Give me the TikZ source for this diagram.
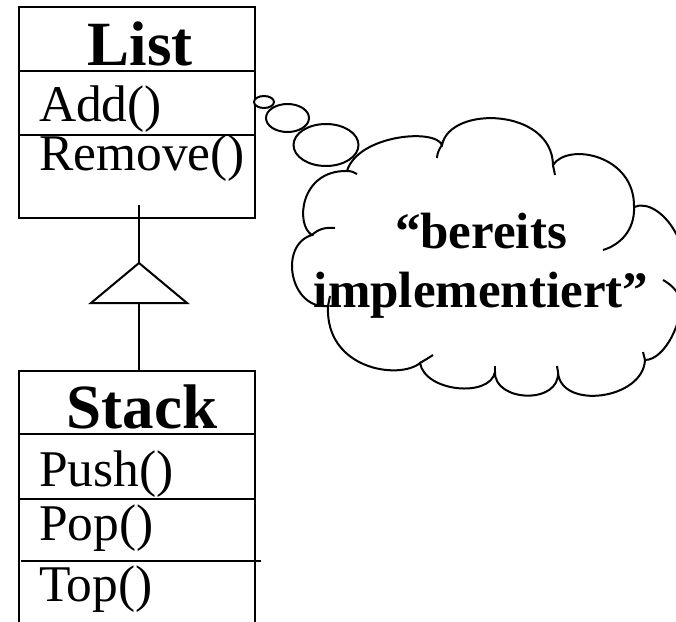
\documentclass[tikz,border=0pt]{standalone}
\usepackage{fontspec}
\setmainfont{Liberation Serif}

\begin{document}
\begin{tikzpicture}[x=1pt, y=-1pt, line width=2pt,
    classbox/.style={draw, minimum width=236pt, inner sep=0pt},
    classname/.style={anchor=base, inner sep=0pt, font=\fontsize{63}{63}\selectfont\bfseries},
    method/.style={anchor=base west, inner sep=0pt, font=\fontsize{51.5}{52}\selectfont},
    bubble/.style={draw, fill=white}]
    \useasboundingbox (0,0) rectangle (676,621);

    \node[classbox, minimum height=211pt] (list) at (137,112.5) {};
    \node[classname] (listname) at (140,65) {List};
    \draw (19,71) -- (255,71);
    \draw (19,135) -- (255,135);
    \node[method] (add) at (38,121) {Add()};
    \node[method] (remove) at (38,170) {Remove()};

    \node[classbox, minimum height=290pt] (stack) at (137,516) {};
    \node[classname] (stackname) at (142,428) {Stack};
    \draw (19,434) -- (255,434);
    \draw (19,498.5) -- (255,498.5);
    \draw (21,561) -- (261,561);
    \node[method] (push) at (38,486) {Push()};
    \node[method] (pop) at (38,540) {Pop()};
    \node[method] (top) at (38,601) {Top()};

    \coordinate (listfoot) at (139,205);
    \coordinate (tip) at (139,263);
    \coordinate (base) at (139,303);
    \draw (listfoot) -- (tip);
    \draw (tip) -- (91,303) -- (187,303) -- cycle;
    \draw (base) -- (stack.north -| base);

    \draw[bubble] (264,102) ellipse [x radius=10, y radius=6];
    \draw[bubble] (287.5,118) ellipse [x radius=21.5, y radius=14];
    \draw[bubble] (326,145) ellipse [x radius=32.5, y radius=21];

    \draw[bubble] (347,171)
        .. controls (358,135) and (435,128) .. (442,145)
        .. controls (450,105) and (552,108) .. (553,165)
        .. controls (568,142) and (635,155) .. (634,207)
        .. controls (660,196) and (700,250) .. (680,298)
        .. controls (684,320) and (665,360) .. (645,360)
        .. controls (643,400) and (560,410) .. (558,372)
        .. controls (560,405) and (494,402) .. (495,372)
        .. controls (490,398) and (425,392) .. (420,363)
        .. controls (400,380) and (325,370) .. (328,306)
        .. controls (290,310) and (278,245) .. (312,235)
        .. controls (295,225) and (300,170) .. (347,171) -- cycle;
    \draw (347,171) .. controls (351,171) and (354,172) .. (357,174);
    \draw (442,145) .. controls (439,149) and (437,154) .. (437,158);
    \draw (553,165) -- (555,175);
    \draw (634,207) .. controls (635,230) and (620,245) .. (603,250);
    \draw (663,280) .. controls (672,285) and (677,291) .. (680,298);
    \draw (645,360) -- (643,352);
    \draw (558,372) -- (557,366);
    \draw (495,372) -- (495,366);
    \draw (420,363) .. controls (425,360) and (430,357) .. (433,355);
    \draw (328,306) -- (330,296);
    \draw (312,235) .. controls (318,229) and (326,227) .. (335,228);

    \node[inner sep=0pt, align=center, font=\fontsize{51}{59}\selectfont\bfseries] (note) at (481,265.5) {“bereits\\implementiert”};
\end{tikzpicture}
\end{document}
